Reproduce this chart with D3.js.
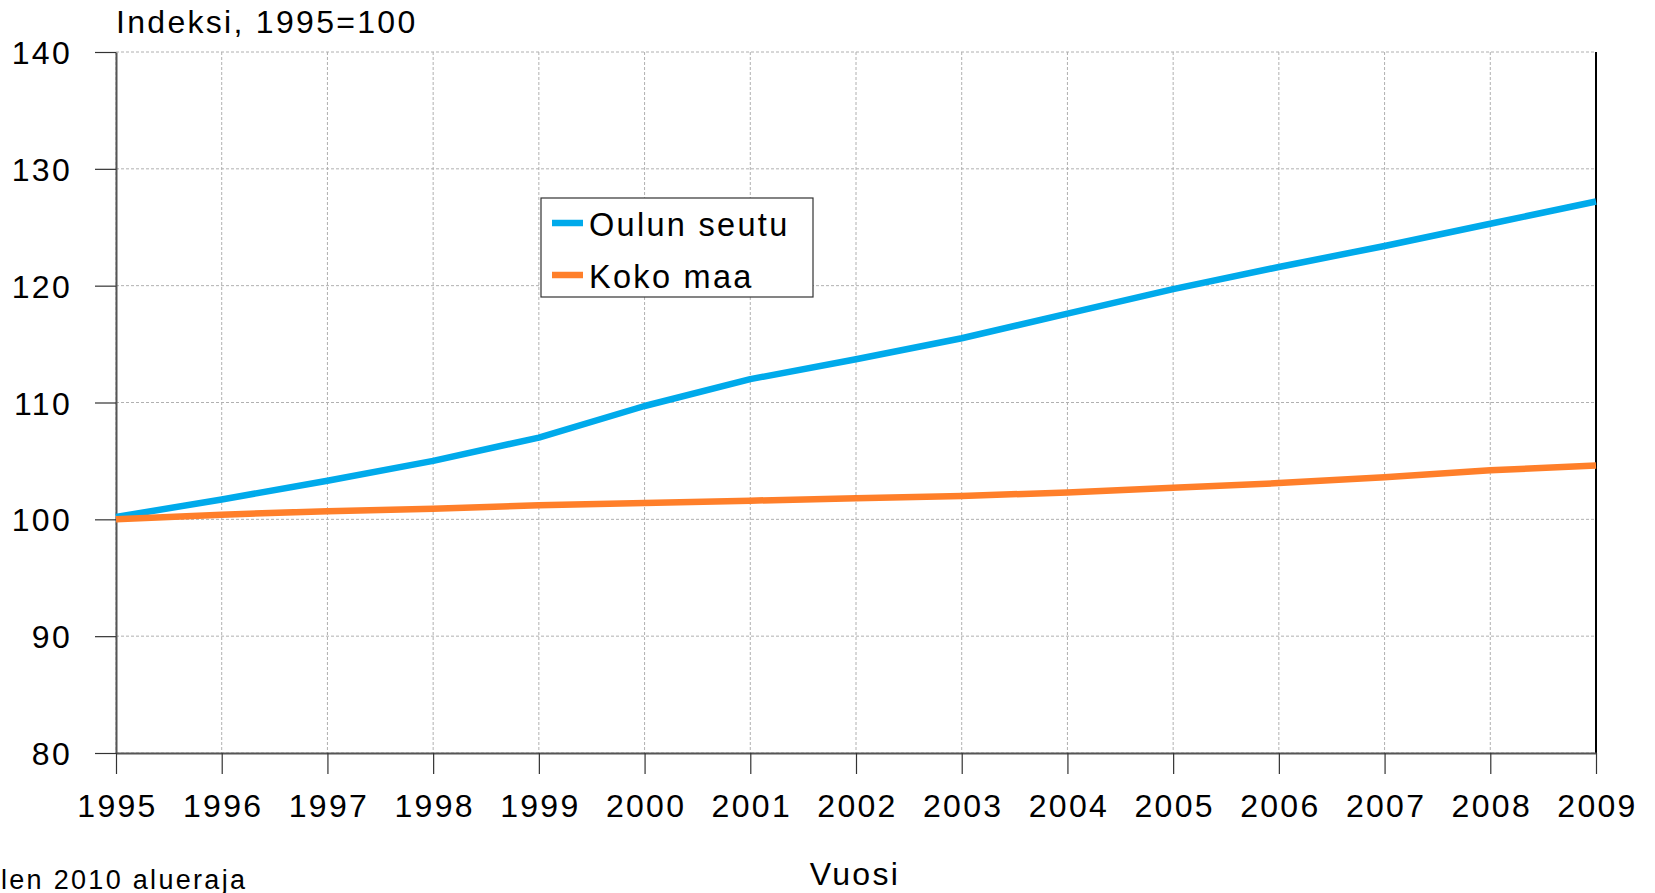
<!DOCTYPE html>
<html>
<head>
<meta charset="utf-8">
<script src="https://cdn.jsdelivr.net/npm/d3@7"></script>
<style>
  body { margin: 0; background: #fff; }
  svg { display: block; font-family: "Liberation Sans", Arial, sans-serif; }
  .grid line { stroke: #b0b0b0; stroke-width: 1; stroke-dasharray: 3,2; }
  text { letter-spacing: 2.3px; fill: #000; }
</style>
</head>
<body>
<svg width="1655" height="893"></svg>
<script>
// data
var years = [1995, 1996, 1997, 1998, 1999, 2000, 2001, 2002, 2003, 2004, 2005, 2006, 2007, 2008, 2009];
var oulunSeutu = [100.2, 101.7, 103.3, 105.0, 107.0, 109.7, 112.0, 113.7, 115.5, 117.6, 119.7, 121.6, 123.4, 125.3, 127.2];
var kokoMaa = [100.0, 100.4, 100.7, 100.9, 101.2, 101.4, 101.6, 101.8, 102.0, 102.3, 102.7, 103.1, 103.6, 104.2, 104.6];
var yTicks = [80, 90, 100, 110, 120, 130, 140];
var seriesNames = ["Oulun seutu", "Koko maa"];
var seriesColors = ["#00aaeb", "#ff7f2a"];

var svg = d3.select("svg");

//plot area edges
var plotLeft = 116, plotRight = 1596, plotTop = 52, plotBottom = 753;

var x = d3.scaleLinear().domain([1995, 2009]).range([plotLeft, plotRight]);
var y = d3.scaleLinear().domain([80, 140]).range([plotBottom, plotTop]);

//gridlines
var grid = svg.append("g").attr("class", "grid");
grid.selectAll("line.h")
  .data(yTicks)
  .enter()
  .append("line")
  .attr("x1", plotLeft).attr("x2", plotRight)
  .attr("y1", function(d){ return y(d); })
  .attr("y2", function(d){ return y(d); });
grid.selectAll("line.v")
  .data(years)
  .enter()
  .append("line")
  .attr("y1", plotTop).attr("y2", plotBottom)
  .attr("x1", function(d){ return x(d); })
  .attr("x2", function(d){ return x(d); });

//right border
svg.append("line")
  .attr("x1", plotRight).attr("x2", plotRight)
  .attr("y1", plotTop).attr("y2", plotBottom)
  .attr("stroke", "#000").attr("stroke-width", 2);

//axes
var yAxis = svg.append("g")
  .attr("transform", "translate(" + plotLeft + ",0)")
  .call(d3.axisLeft(y).tickValues(yTicks).tickSize(21).tickPadding(23).tickSizeOuter(0));

var xAxis = svg.append("g")
  .attr("transform", "translate(0," + plotBottom + ")")
  .call(d3.axisBottom(x).tickValues(years).tickFormat(d3.format("d")).tickSize(21).tickPadding(20).tickSizeOuter(0));

[yAxis, xAxis].forEach(function(ax){
  ax.select(".domain").attr("stroke", "#555").attr("stroke-width", 2);
  ax.selectAll(".tick line").attr("stroke", "#333").attr("stroke-width", 1.2);
  ax.selectAll(".tick text")
    .attr("fill", "#000")
    .style("font-size", "32px")
    .style("font-family", "'Liberation Sans', Arial, sans-serif");
});
yAxis.selectAll(".tick text").attr("dy", "0.36em");
xAxis.selectAll(".tick text").attr("dx", "1px");

//lines
var lineGen = d3.line()
  .x(function(d, i){ return x(years[i]); })
  .y(function(d){ return y(d); });

[oulunSeutu, kokoMaa].forEach(function(vals, i){
  svg.append("path")
    .datum(vals)
    .attr("d", lineGen)
    .attr("fill", "none")
    .attr("stroke", seriesColors[i])
    .attr("stroke-width", 6.5)
    .attr("stroke-linejoin", "round");
});

//legend
var legend = svg.append("g");
legend.append("rect")
  .attr("x", 541).attr("y", 198)
  .attr("width", 272).attr("height", 99)
  .attr("fill", "#fff")
  .attr("stroke", "#333")
  .attr("stroke-width", 1.2);

var legendRows = [223, 275];
seriesNames.forEach(function(name, i){
  legend.append("line")
    .attr("x1", 552).attr("x2", 583)
    .attr("y1", legendRows[i]).attr("y2", legendRows[i])
    .attr("stroke", seriesColors[i])
    .attr("stroke-width", 6.5);
  legend.append("text")
    .attr("x", 589).attr("y", legendRows[i] + 13)
    .style("font-size", "32.5px")
    .text(name);
});

//titles
svg.append("text")
  .attr("x", 116).attr("y", 33)
  .style("font-size", "32px")
  .text("Indeksi, 1995=100");

svg.append("text")
  .attr("x", 855).attr("y", 885)
  .attr("text-anchor", "middle")
  .style("font-size", "32px")
  .text("Vuosi");

svg.append("text")
  .attr("x", 1).attr("y", 889)
  .style("font-size", "27px")
  .text("len 2010 alueraja");
</script>
</body>
</html>
